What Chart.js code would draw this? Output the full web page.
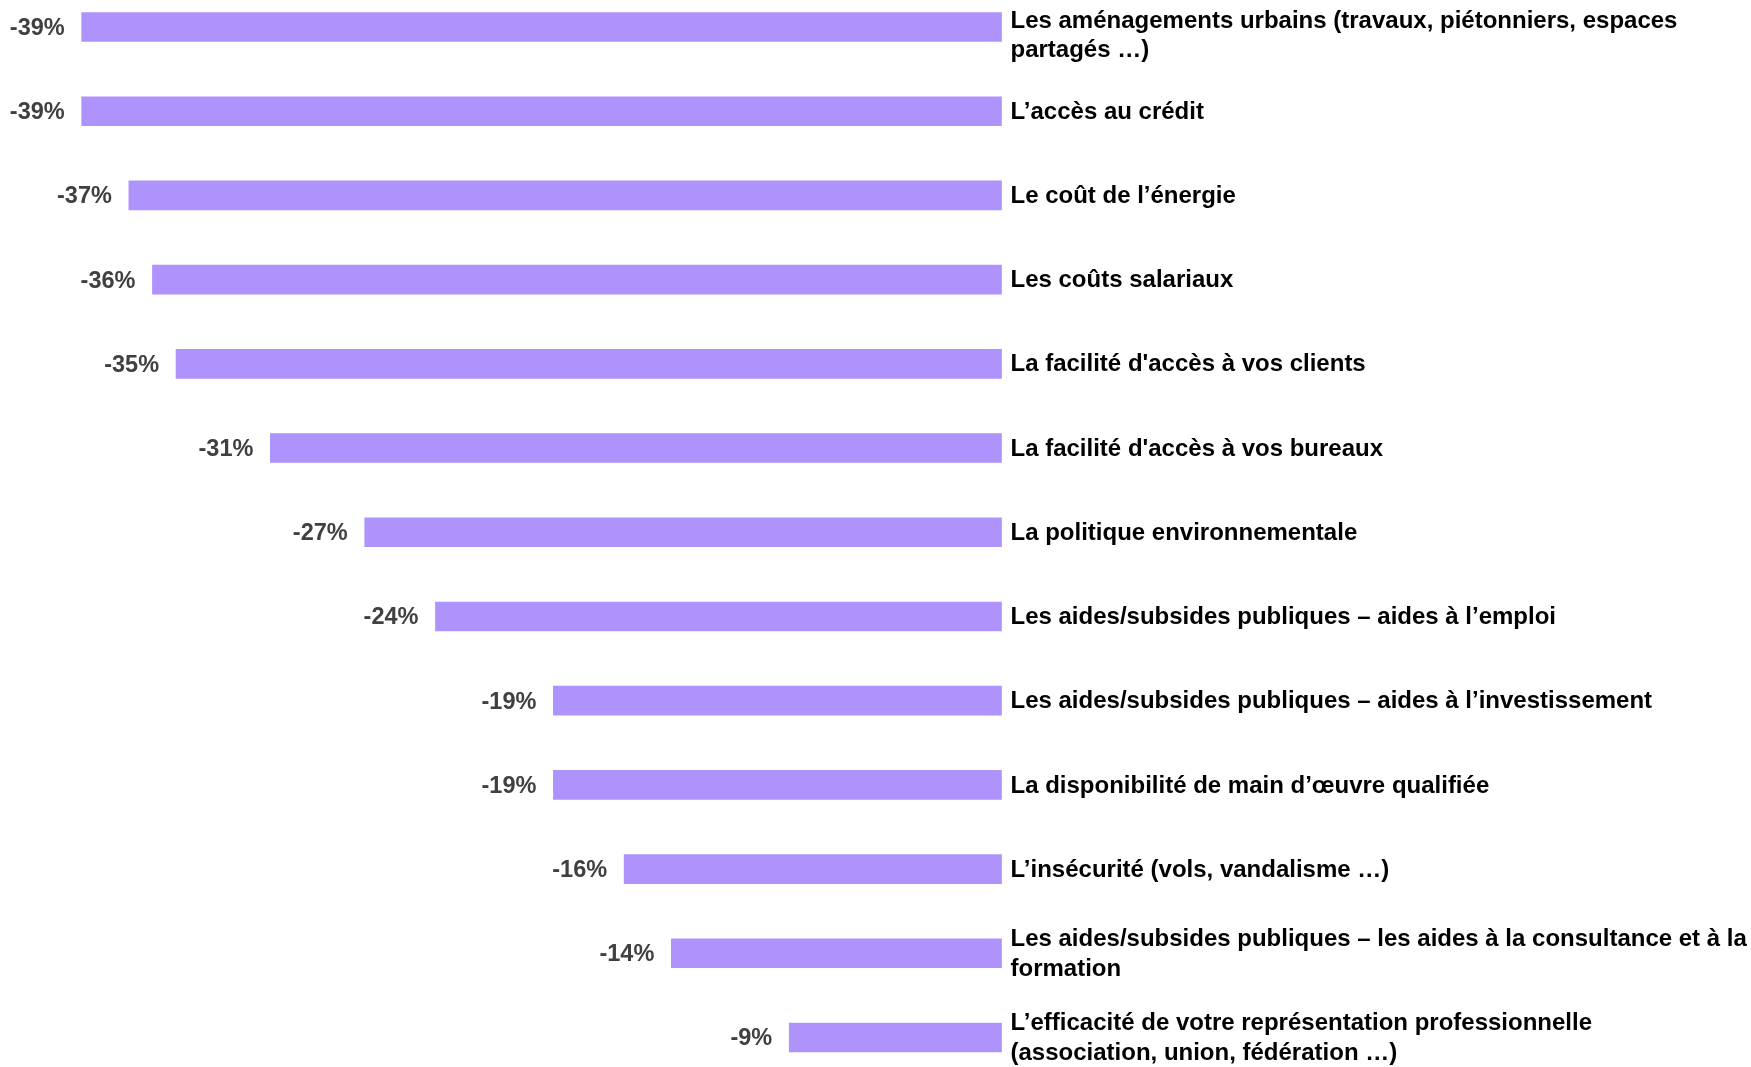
<!DOCTYPE html>
<html lang="fr">
<head>
<meta charset="utf-8">
<title>Facteurs défavorables</title>
<script src="https://cdn.jsdelivr.net/npm/chart.js@4/dist/chart.umd.min.js"></script>
<style>
  html, body { margin: 0; padding: 0; background: #ffffff; }
  #wrap { width: 1751px; height: 1067px; position: relative; }
</style>
</head>
<body>
<div id="wrap"><canvas id="chart" width="1751" height="1067"></canvas></div>
<script>
// Categories (line breaks as they are set on the page)
const categories = [
  ["Les aménagements urbains (travaux, piétonniers, espaces", "partagés …)"],
  ["L’accès au crédit"],
  ["Le coût de l’énergie"],
  ["Les coûts salariaux"],
  ["La facilité d'accès à vos clients"],
  ["La facilité d'accès à vos bureaux"],
  ["La politique environnementale"],
  ["Les aides/subsides publiques – aides à l’emploi"],
  ["Les aides/subsides publiques – aides à l’investissement"],
  ["La disponibilité de main d’œuvre qualifiée"],
  ["L’insécurité (vols, vandalisme …)"],
  ["Les aides/subsides publiques – les aides à la consultance et à la", "formation"],
  ["L’efficacité de votre représentation professionnelle", "(association, union, fédération …)"]
];

// Net balance, in %
const values = [-39, -39, -37, -36, -35, -31, -27, -24, -19, -19, -16, -14, -9];

// Value axis range
const axisMin = -39;
const axisMax = 0;

const BAR_COLOR = "#ad93fb";
const FONT = "'Liberation Sans', Arial, Helvetica, sans-serif";

// Draws the percentage to the left of each bar and the category text to the right
const labelPlugin = {
  id: "barLabels",
  afterDatasetsDraw(chart) {
    const ctx = chart.ctx;
    const meta = chart.getDatasetMeta(0);
    const xScale = chart.scales.x;
    const zeroX = xScale.getPixelForValue(0);
    ctx.save();
    meta.data.forEach((bar, i) => {
      const y = bar.y;
      // value label
      ctx.font = "bold 23.5px " + FONT;
      ctx.fillStyle = "#404040";
      ctx.textAlign = "right";
      ctx.textBaseline = "middle";
      ctx.fillText(values[i] + "%", bar.x - 17, y + 1.5);

      // category label
      const lines = categories[i];
      const lineH = 29.5;
      let first = y - (lines.length - 1) * lineH / 2;
      first = Math.max(first, 20);
      ctx.font = "bold 24px " + FONT;
      ctx.fillStyle = "#000000";
      ctx.textAlign = "left";
      lines.forEach((ln, k) => {
        ctx.fillText(ln, zeroX + 9, first + k * lineH + 1);
      });
    });
    ctx.restore();
  }
};

new Chart(document.getElementById("chart"), {
  type: "bar",
  data: {
    labels: categories,
    datasets: [{
      data: values,
      backgroundColor: BAR_COLOR,
      borderWidth: 0,
      barThickness: 29,
      clip: false
    }]
  },
  options: {
    indexAxis: "y",
    responsive: false,
    devicePixelRatio: 1,
    animation: false,
    layout: { padding: { left: 81.7, right: 749.5, top: 27, bottom: 29.5 } },
    plugins: {
      legend: { display: false },
      tooltip: { enabled: false },
      title: { display: false }
    },
    scales: {
      x: { display: false, min: axisMin, max: axisMax },
      y: { display: false, offset: false, grid: { display: false } }
    }
  },
  plugins: [labelPlugin]
});
</script>
</body>
</html>
